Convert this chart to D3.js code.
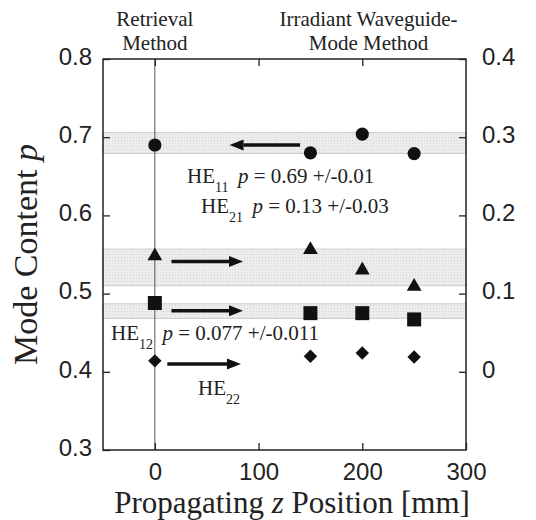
<!DOCTYPE html>
<html>
<head>
<meta charset="utf-8">
<script src="https://cdn.jsdelivr.net/npm/d3@7"></script>
<style>
  body { margin: 0; background: #fff; }
  svg text { fill: #222; }
</style>
</head>
<body>
<svg id="chart" width="536" height="520"></svg>
<script>
// data
var zPos = [0, 150, 200, 250];
var he11 = [0.690, 0.680, 0.704, 0.679];
var he21 = [0.548, 0.556, 0.530, 0.509];
var he12 = [0.488, 0.475, 0.475, 0.467];
var he22 = [0.414, 0.420, 0.424, 0.419];

// shaded ranges (left axis units)
var bandLo = [0.679, 0.510, 0.468];
var bandHi = [0.706, 0.557, 0.487];

// arrows: [from z, to z, p]
var arrowFrom = [140, 16, 16, 12];
var arrowTo = [72, 85, 85, 83];
var arrowP = [0.690, 0.541, 0.478, 0.410];

var xTicks = [0, 100, 200, 300];
var yTicks = [0.3, 0.4, 0.5, 0.6, 0.7, 0.8];
var yRightTicks = [0, 0.1, 0.2, 0.3, 0.4];

var svg = d3.select('#chart');
var margin = {top: 59, right: 70, bottom: 70, left: 103};
var width = 536 - margin.left - margin.right;
var height = 520 - margin.top - margin.bottom;

var g = svg.append('g').attr('transform', `translate(${margin.left},${margin.top})`);

var x = d3.scaleLinear().domain([-50, 300]).range([0, width]);
var y = d3.scaleLinear().domain([0.3, 0.8]).range([height, 0]);
var yRight = d3.scaleLinear().domain([-0.1, 0.4]).range([height, 0]);

// stippled band fill
var defs = svg.append('defs');
var pat = defs.append('pattern').attr('id', 'stip')
  .attr('width', 3).attr('height', 3).attr('patternUnits', 'userSpaceOnUse');
pat.append('rect').attr('width', 3).attr('height', 3).attr('fill', '#ececec');
pat.append('rect').attr('width', 1).attr('height', 1).attr('fill', '#d6d6d6');

g.selectAll('.band')
  .data(bandLo)
  .join('rect')
  .classed('band', true)
  .attr('x', 0)
  .attr('width', width)
  .attr('y', (d, i) => y(bandHi[i]))
  .attr('height', (d, i) => y(d) - y(bandHi[i]))
  .attr('fill', 'url(#stip)')
  .attr('stroke', '#c4c4c4')
  .attr('stroke-width', 0.8);

// vertical line at z = 0
g.append('line')
  .attr('x1', x(0)).attr('x2', x(0))
  .attr('y1', 0).attr('y2', height)
  .attr('stroke', '#555').attr('stroke-width', 1);

// axes
var tickFont = '"Liberation Sans", Arial, sans-serif';

var bottomAxis = g.append('g')
  .attr('transform', `translate(0,${height})`)
  .call(d3.axisBottom(x).tickValues(xTicks).tickSize(-7).tickPadding(8).tickFormat(d3.format('d')));
var topAxis = g.append('g')
  .call(d3.axisTop(x).tickValues([0, 100, 200]).tickSize(-7).tickFormat(''));
var leftAxis = g.append('g')
  .call(d3.axisLeft(y).tickValues(yTicks).tickSize(-7).tickPadding(11).tickFormat(d3.format('.1f')));
var rightAxis = g.append('g')
  .attr('transform', `translate(${width},0)`)
  .call(d3.axisRight(yRight).tickValues(yRightTicks).tickSize(-7).tickPadding(16)
    .tickFormat(d => d === 0 ? '0' : d3.format('.1f')(d)));

[bottomAxis, topAxis, leftAxis, rightAxis].forEach(function(a) {
  a.select('.domain').remove();
  a.selectAll('.tick line').attr('stroke', '#222').attr('stroke-width', 1.3);
  a.selectAll('text')
    .style('font-family', tickFont)
    .style('font-size', '24px')
    .attr('fill', '#222');
});
leftAxis.selectAll('text').attr('dy', '0.22em');
rightAxis.selectAll('text').attr('dy', '0.22em');
bottomAxis.selectAll('text').attr('dy', '0.9em');

// frame
g.append('rect')
  .attr('width', width).attr('height', height)
  .attr('fill', 'none').attr('stroke', '#222').attr('stroke-width', 1.5);

// markers
function drawSeries(vals, name, type, size, rot) {
  g.selectAll('.m-' + name)
    .data(vals)
    .join('path')
    .attr('class', 'm-' + name)
    .attr('d', d3.symbol().type(type).size(size))
    .attr('transform', (d, i) => `translate(${x(zPos[i])},${y(d)}) rotate(${rot})`)
    .attr('fill', '#111');
}
drawSeries(he11, 'circle', d3.symbolCircle, Math.PI * 6.6 * 6.6, 0);
drawSeries(he21, 'triangle', d3.symbolTriangle, 95, 0);
drawSeries(he12, 'square', d3.symbolSquare, 14 * 14, 0);
drawSeries(he22, 'diamond', d3.symbolSquare, 9.5 * 9.5, 45);

// arrows
var headLen = 14, headHalf = 5.5;
arrowP.forEach(function(p, i) {
  var x1 = x(arrowFrom[i]), x2 = x(arrowTo[i]), yy = y(p);
  var dir = x2 > x1 ? 1 : -1;
  g.append('line')
    .attr('x1', x1).attr('x2', x2 - dir * headLen)
    .attr('y1', yy).attr('y2', yy)
    .attr('stroke', '#111').attr('stroke-width', 3.5);
  g.append('path')
    .attr('d', `M${x2},${yy} L${x2 - dir * headLen},${yy - headHalf} L${x2 - dir * headLen},${yy + headHalf} Z`)
    .attr('fill', '#111');
});

// annotations
var serif = '"Liberation Serif", "Times New Roman", serif';
function label(px, py, sub, rest) {
  var t = svg.append('text')
    .attr('x', px).attr('y', py)
    .style('font-family', serif).style('font-size', '21px');
  t.append('tspan').text('HE');
  t.append('tspan').attr('dy', 9).style('font-size', '14px').text(sub);
  if (rest) {
    t.append('tspan').attr('dy', -9).text('\u2009 ');
    t.append('tspan').style('font-style', 'italic').text('p');
    t.append('tspan').text(rest);
  }
}
label(187, 183, '11', ' = 0.69 +/-0.01');
label(201, 213, '21', ' = 0.13 +/-0.03');
label(111, 340, '12', ' = 0.077 +/-0.011');
label(198, 395, '22', null);

// top headings
function heading(cx, lines) {
  lines.forEach(function(s, i) {
    svg.append('text')
      .attr('x', cx).attr('y', 26 + i * 24)
      .attr('text-anchor', 'middle')
      .style('font-family', serif).style('font-size', '21px')
      .text(s);
  });
}
heading(margin.left + x(0), ['Retrieval', 'Method']);
heading(margin.left + x(206), ['Irradiant Waveguide-', 'Mode Method']);

// axis titles
var xt = svg.append('text')
  .attr('x', 292).attr('y', 513)
  .attr('text-anchor', 'middle')
  .style('font-family', serif).style('font-size', '31px');
xt.append('tspan').text('Propagating ');
xt.append('tspan').style('font-style', 'italic').text('z');
xt.append('tspan').text(' Position [mm]');

var yt = svg.append('text')
  .attr('transform', `translate(37,${margin.top + height / 2}) rotate(-90)`)
  .attr('text-anchor', 'middle')
  .style('font-family', serif).style('font-size', '34px');
yt.append('tspan').text('Mode Content ');
yt.append('tspan').style('font-style', 'italic').text('p');
</script>
</body>
</html>
